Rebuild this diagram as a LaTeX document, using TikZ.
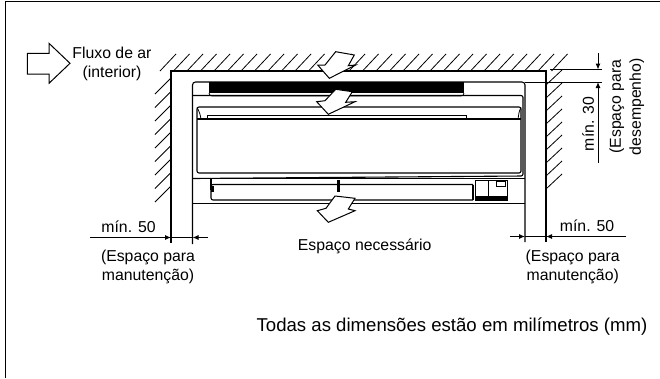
\documentclass[tikz,border=0pt]{standalone}
\usepackage{fontspec}
\setmainfont{Liberation Sans}
\usetikzlibrary{arrows.meta}

\tikzset{
    wall/.style={line width=1.1pt},
    hatch/.style={line width=0.8pt},
    unit/.style={line width=1.1pt,rounded corners=2pt},
    flow/.style={draw,fill=white,line width=1pt,line join=miter},
    dimline/.style={line width=1pt},
    dimtip/.style={-{Latex[length=6pt,width=5pt]},line width=1pt},
    label/.style={font=\fontsize{15.8}{18}\selectfont,inner sep=0pt,align=center}
}

\begin{document}
\begin{tikzpicture}[x=1pt,y=-1pt]
    \useasboundingbox (0,0) rectangle (660,378);

    % page frame
    \draw[line width=1.2pt] (5.5,378) -- (5.5,1.5) -- (660,1.5);

    % wall hatching
    \foreach \x in {160,173.5,...,555} {
        \draw[hatch] (\x,71) -- (\x+16,54);
    }
    \foreach \y in {78,91.5,...,190} {
        \draw[hatch] (171,\y) -- (155,\y+16);
    }
    \foreach \y in {70,83,...,186} {
        \draw[hatch] (546,\y+15) -- (562,\y);
    }

    % room
    \draw[wall] (171,243) -- (171,71) -- (546,71) -- (546,242);

    % unit outline
    \draw[wall] (192.5,244) -- (192.5,85) to[out=90,in=180] (195.5,82) -- (522,82) to[out=0,in=90] (525,85) -- (525,242);
    \fill (209,82) rectangle (464,93);
    \draw[unit] (193,95.5) -- (523,95.5) -- (523,176) -- (193,178.5);
    \draw[wall] (193,178.5) -- (525,178.5);
    \draw[wall] (192.5,203.5) -- (525,203.5);
    \draw[line width=0.8pt] (209,93) to[out=-90,in=180] (212,96) -- (461,96) to[out=0,in=-90] (464,93);

    % front panel
    \draw[unit] (197,173) rectangle (521,107);
    \draw[line width=1pt] (207,119) -- (207,115.5) -- (466,115.5) -- (466,119);
    \draw[line width=1.3pt] (197,119) -- (521,119);
    \draw[line width=0.8pt] (197,107.5) to[out=-60,in=100] (201,119);
    \draw[line width=0.8pt] (521,107.5) to[out=-120,in=80] (518,119);

    % louver
    \draw[unit] (473,184.5) -- (211,184.5) -- (211,200) -- (473,200);
    \draw[wall] (473,184.5) -- (473,200);
    \draw[wall] (211,179) -- (211,190);
    \fill (211,186) rectangle (214,192);
    \fill (337,180) rectangle (340,192);
    \fill (472,186) rectangle (474,192);

    % control box
    \draw[line width=1pt] (475,180) rectangle (507,200);
    \fill (475,196) rectangle (507,200);
    \draw[line width=1pt] (488,180) -- (488,196);
    \draw[line width=0.8pt] (496,181) rectangle (505,186);

    % air flow arrows
    \draw[flow] (27.3,53.3) -- (49,53.3) -- (49,43.3) -- (70,63.3) -- (49,83.3) -- (49,74) -- (27.3,74) -- cycle;
    \draw[flow] (335.7,51.7) -- (354.3,55) -- (348.3,65.7) -- (355.7,65) -- (329.3,78.3) -- (317.7,65) -- (325,65) -- cycle;
    \draw[flow] (335.7,89.3) -- (352.3,91.7) -- (345.7,102.3) -- (355,101.7) -- (328.3,114.3) -- (316.7,101.7) -- (325,100.7) -- cycle;
    \draw[flow] (335,196) -- (355,198.3) -- (348.3,209) -- (355,210.7) -- (328.3,222.3) -- (317.3,210.7) -- (326,208.3) -- cycle;

    % clearance at the top
    \coordinate (walltop) at (550,69.5);
    \coordinate (unittop) at (525,82);
    \draw[dimline] (walltop) -- (602,69.5);
    \draw[dimline] (unittop) -- (602,82);
    \draw[dimtip] (598,53) -- (598,69.5);
    \draw[dimtip] (598,163) -- (598,82);

    % clearance at the left
    \draw[dimtip] (90,237.5) -- (171,237.5);
    \draw[dimtip] (208,237.5) -- (192.5,237.5);
    \draw[dimline] (171,237.5) -- (192.5,237.5);

    % clearance at the right
    \draw[dimtip] (510,236.5) -- (525,236.5);
    \draw[dimtip] (626,236.5) -- (546,236.5);
    \draw[dimline] (525,236.5) -- (546,236.5);

    % texts
    \node[label] (fluxo) at (112,53) {Fluxo de ar};
    \node[label] (interior) at (112,73) {(interior)};
    \node[label,rotate=90] (min30) at (588,124) {mín. 30};
    \node[label,rotate=90] (espacoa) at (616.7,106.7) {(Espaço para};
    \node[label,rotate=90] (espacob) at (636.7,106.7) {desempenho)};
    \node[label] (minl) at (128.5,226.7) {mín. 50};
    \node[label] (manla) at (148,257) {(Espaço para};
    \node[label] (manlb) at (148,276) {manutenção)};
    \node[label] (minr) at (587,226) {mín. 50};
    \node[label] (manra) at (572.7,257) {(Espaço para};
    \node[label] (manrb) at (572.7,276) {manutenção)};
    \node[label] (necessario) at (364.7,246) {Espaço necessário};
    \node[label,font=\fontsize{18.6}{20}\selectfont] (todas) at (452,327) {Todas as dimensões estão em milímetros (mm)};
\end{tikzpicture}
\end{document}
